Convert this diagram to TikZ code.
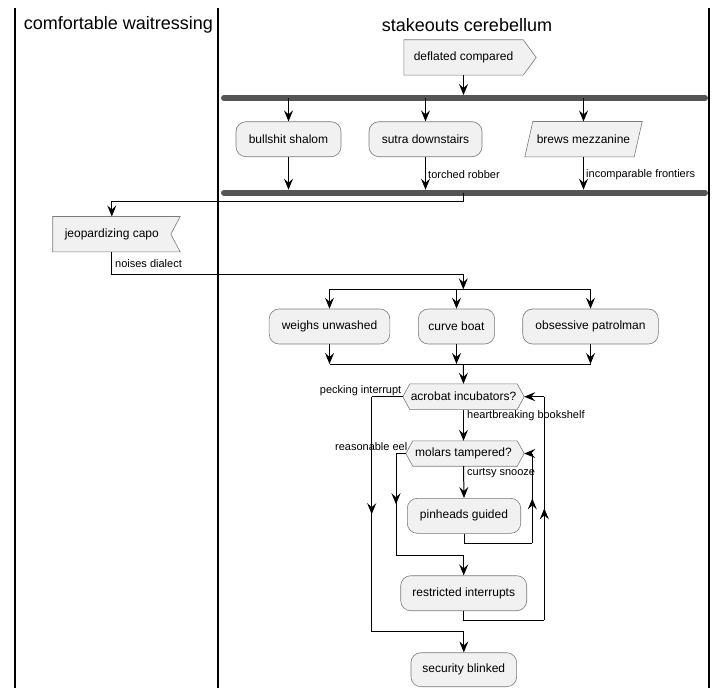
\documentclass[tikz,border=0pt]{standalone}
\usepackage{fontspec}
\setmainfont{Liberation Sans}
\usetikzlibrary{arrows.meta,decorations.markings}
\pgfdeclarelayer{background}
\pgfsetlayers{background,main}
\definecolor{actfill}{HTML}{F1F1F1}
\definecolor{actline}{HTML}{7A7A7A}
\definecolor{bargray}{HTML}{555555}
\tikzset{
  act/.style={draw=actline, fill=actfill, line width=0.6pt, rounded corners=10pt,
    minimum height=35pt, inner sep=0pt, font=\fontsize{12}{14}\selectfont},
  bare/.style={inner sep=0pt, minimum height=35pt, font=\fontsize{12}{14}\selectfont},
  outline/.style={draw=actline, fill=actfill, line width=0.6pt},
  lbl/.style={inner sep=0pt, font=\fontsize{11}{13}\selectfont},
  lane/.style={line width=1.5pt},
  bar/.style={line width=6pt, line cap=round, draw=bargray},
  flow/.style={line width=1pt},
  midarrow/.style={line width=1pt, decoration={markings, mark=at position 0.5 with {\arrow{>}}}, postaction={decorate}},
  >={Stealth[length=11pt,width=9pt,inset=4pt]}
}
\begin{document}
\begin{tikzpicture}[x=1pt,y=-1pt]
\useasboundingbox (0,0) rectangle (727,698);
\draw[lane] (15,8) -- (15,688);
\draw[lane] (218,8) -- (218,688);
\draw[lane] (709,8) -- (709,688);
\node[font=\fontsize{18}{20}\selectfont] (lane1) at (118.5,25) {comfortable waitressing};
\node[font=\fontsize{18}{20}\selectfont] (lane2) at (467,25) {stakeouts cerebellum};

\node[bare, minimum width=119pt] (defl) at (463.5,57.5) {deflated compared};
\node[act, minimum width=105pt] (bull) at (288.5,139.2) {bullshit shalom};
\node[act, minimum width=113pt] (sutra) at (425.5,139.2) {sutra downstairs};
\node[bare, minimum width=109pt] (brews) at (583.5,139.2) {brews mezzanine};
\node[bare, minimum width=117.7pt] (jeop) at (111.8,234.2) {jeopardizing capo};
\node[act, minimum width=120.7pt] (weigh) at (329.5,326.5) {weighs unwashed};
\node[act, minimum width=76.3pt] (curve) at (456.5,326.5) {curve boat};
\node[act, minimum width=135.6pt] (obses) at (590.5,326.5) {obsessive patrolman};
\node[bare, minimum width=107pt, minimum height=25.3pt] (acro) at (463.5,396.7) {acrobat incubators?};
\node[bare, minimum width=101pt, minimum height=25pt] (molar) at (463.5,453.5) {molars tampered?};
\node[act, minimum width=113.4pt] (pinh) at (464,515.8) {pinheads guided};
\node[act, minimum width=126pt] (restr) at (463.7,593.2) {restricted interrupts};
\node[act, minimum width=105.7pt, minimum height=34pt] (secur) at (463.8,669.7) {security blinked};

\begin{pgfonlayer}{background}
\draw[outline] (defl.north west) -- (defl.north east) -- ([xshift=13pt]defl.east) -- (defl.south east) -- (defl.south west) -- cycle;
\draw[outline] ([xshift=-4pt]brews.south west) -- ([xshift=4pt]brews.north west) -- ([xshift=4pt]brews.north east) -- ([xshift=-4pt]brews.south east) -- cycle;
\draw[outline] (jeop.north west) -- ([xshift=9.3pt]jeop.north east) -- (jeop.east) -- ([xshift=9.3pt]jeop.south east) -- (jeop.south west) -- cycle;
\draw[outline] ([xshift=-7pt]acro.west) -- (acro.north west) -- (acro.north east) -- ([xshift=7pt]acro.east) -- (acro.south east) -- (acro.south west) -- cycle;
\draw[outline] ([xshift=-7pt]molar.west) -- (molar.north west) -- ([xshift=3pt]molar.north east) -- ([xshift=10pt]molar.east) -- ([xshift=3pt]molar.south east) -- (molar.south west) -- cycle;
\end{pgfonlayer}

\coordinate (bar1l) at (224,98);
\coordinate (bar1r) at (705,98);
\coordinate (bar2l) at (224,192.7);
\coordinate (bar2r) at (705,192.7);
\draw[bar] (bar1l) -- (bar1r);
\draw[bar] (bar2l) -- (bar2r);
\draw[flow,->,shorten >=3pt] (defl.south) -- (defl.south |- bar1l);
\draw[flow,->] (bull.north |- bar1l) -- (bull.north);
\draw[flow,->] (sutra.north |- bar1l) -- (sutra.north);
\draw[flow,->] (brews.north |- bar1l) -- (brews.north);
\draw[flow,->,shorten >=3pt] (bull.south) -- (bull.south |- bar2l);
\draw[flow,->,shorten >=3pt] (sutra.south) -- (sutra.south |- bar2l);
\draw[flow,->,shorten >=3pt] (brews.south) -- (brews.south |- bar2l);
\node[lbl, anchor=west] (torch) at (428,174.3) {torched robber};
\node[lbl, anchor=west] (incom) at (586,174.3) {incomparable frontiers};

\coordinate (b2out) at (463.7,192.7);
\coordinate (j1) at (463.7,201.7);
\draw[flow,->] (b2out) -- (j1) -| (jeop.north);
\coordinate (k1) at (111.8,274.3);
\coordinate (fork2) at (463.3,289.3);
\draw[flow,->] (jeop.south) -- (k1) -| (fork2);
\node[lbl, anchor=west] (noise) at (115,264) {noises dialect};

\coordinate (f2l) at (329.5,289.3);
\coordinate (f2r) at (590.5,289.3);
\draw[flow] (f2l) -- (f2r);
\draw[flow,->] (weigh.north |- f2l) -- (weigh.north);
\draw[flow,->] (curve.north |- f2l) -- (curve.north);
\draw[flow,->] (obses.north |- f2l) -- (obses.north);
\coordinate (m2l) at (329.5,364);
\coordinate (m2r) at (590.5,364);
\coordinate (m2c) at (463.3,364);
\draw[flow] (m2l) -- (m2r);
\draw[flow,->] (weigh.south) -- (weigh.south |- m2l);
\draw[flow,->] (curve.south) -- (curve.south |- m2l);
\draw[flow,->] (obses.south) -- (obses.south |- m2l);
\draw[flow,->] (m2c) -- (acro.north);

\coordinate (a1) at (371.7,396.7);
\coordinate (a2) at (371.7,631.7);
\draw[flow] ([xshift=-7pt]acro.west) -- (a1);
\draw[midarrow] (a1) -- (a2);
\draw[flow,->] (a2) -| (secur.north);
\node[lbl, anchor=east] (peck) at (401.5,390.5) {pecking interrupt};
\draw[flow,->] (acro.south) -- (molar.north);
\node[lbl, anchor=west] (heart) at (467,416) {heartbreaking bookshelf};

\coordinate (c1) at (396,453.5);
\coordinate (c2) at (396,555);
\draw[flow] ([xshift=-7pt]molar.west) -- (c1);
\draw[midarrow] (c1) -- (c2);
\draw[flow,->] (c2) -| (restr.north);
\node[lbl, anchor=east] (reas) at (407.5,447) {reasonable eel};
\draw[flow,->] (molar.south) -- (pinh.north);
\node[lbl, anchor=west] (curts) at (467,473) {curtsy snooze};

\coordinate (p1) at (464,543.3);
\coordinate (p2) at (532.3,543.3);
\coordinate (p3) at (532.3,453.5);
\draw[flow] (pinh.south) -- (p1) -- (p2);
\draw[midarrow] (p2) -- (p3);
\draw[flow,->] (p3) -- ([xshift=10pt]molar.east);

\coordinate (r1) at (463.7,620);
\coordinate (r2) at (544.3,620);
\coordinate (r3) at (544.3,396.7);
\draw[flow] (restr.south) -- (r1) -- (r2);
\draw[midarrow] (r2) -- (r3);
\draw[flow,->] (r3) -- ([xshift=7pt]acro.east);
\end{tikzpicture}
\end{document}
